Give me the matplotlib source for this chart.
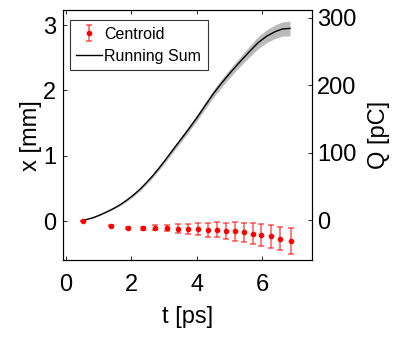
import matplotlib
matplotlib.use("Agg")
import matplotlib.pyplot as plt
import numpy as np

plt.rcParams["font.family"] = ["Liberation Sans", "DejaVu Sans"]

# running sum of charge (right axis, pC)
t_sum = [0.53, 0.83, 1.04, 1.24, 1.45, 1.65, 1.86, 2.06, 2.26, 2.46, 2.64, 2.82, 3.03, 3.23,
         3.48, 3.73, 4.0, 4.24, 4.48, 4.75, 5.01, 5.19, 5.36, 5.61, 5.87, 6.13, 6.38, 6.6, 6.84]
q_sum = [0, 4, 8, 12.5, 17.5, 23, 30, 37.5, 46, 56, 65.5, 76, 89, 102,
         118, 134, 152, 169, 186, 203, 218, 228, 237, 250, 263, 272.5, 279, 283, 284]
q_err = [0, 0.5, 0.8, 1, 1.2, 1.4, 1.7, 2, 2.3, 2.6, 2.8, 3, 3.3, 3.6,
         4, 4.3, 4.7, 5, 5.5, 6, 6.3, 6.6, 7, 8, 9, 9.5, 10, 10.5, 11]

# centroid position (left axis, mm)
t_cen = [0.53, 1.36, 1.90, 2.36, 2.72, 3.09, 3.43, 3.74, 4.04, 4.33, 4.60, 4.88, 5.15, 5.43, 5.70, 5.97, 6.25, 6.53, 6.87]
x_cen = [0.0, -0.07, -0.105, -0.11, -0.10, -0.105, -0.117, -0.12, -0.12, -0.13, -0.135, -0.153, -0.158, -0.173, -0.193, -0.209, -0.234, -0.27, -0.306]
x_err = [0.005, 0.01, 0.015, 0.02, 0.04, 0.05, 0.066, 0.08, 0.097, 0.107, 0.115, 0.128, 0.14, 0.15, 0.163, 0.17, 0.176, 0.18, 0.2]

fig = plt.figure(figsize=(4.01, 3.38), dpi=100)
ax = fig.add_axes([0.158, 0.23, 0.619, 0.74])
ax2 = ax.twinx()

ax2.fill_between(t_sum, np.array(q_sum) - np.array(q_err), np.array(q_sum) + np.array(q_err),
                 color="#bababa", lw=0)
l2, = ax2.plot(t_sum, q_sum, color="black", lw=1.0, label="Running Sum")

eb = ax.errorbar(t_cen, x_cen, yerr=x_err, fmt="o", color="red", ms=3,
                 ecolor=(1, 0, 0, 0.6), elinewidth=1.2, capsize=2.5, capthick=1.2,
                 label="Centroid")
ax.set_zorder(ax2.get_zorder() + 1)
ax.patch.set_visible(False)

ax.set_xlim(-0.08, 7.5)
ax.set_ylim(-0.6, 3.23)
ax2.set_ylim(-59, 311)
ax.set_xticks([0, 2, 4, 6])
ax.set_yticks([0, 1, 2, 3])
ax2.set_yticks([0, 100, 200, 300])

for a in (ax, ax2):
    a.tick_params(direction="in", length=3, width=0.6, labelsize=17)
    for s in a.spines.values():
        s.set_linewidth(0.8)
ax.tick_params(top=True)
ax.tick_params(axis="x", pad=10)
ax.tick_params(axis="y", pad=5)
ax2.tick_params(axis="y", pad=4)

ax.set_xlabel("t [ps]", fontsize=17, labelpad=7)
ax.set_ylabel("x [mm]", fontsize=17, labelpad=1)
ax2.set_ylabel("Q [pC]", fontsize=17, labelpad=8)

leg = ax.legend([eb, l2], ["Centroid", "Running Sum"], loc="upper left",
                bbox_to_anchor=(0.027, 0.96), borderaxespad=0, fontsize=11.5,
                frameon=True, fancybox=False, edgecolor="#333333", framealpha=1,
                handlelength=1.6, handletextpad=0.15, borderpad=0.4, labelspacing=0.45)
leg.get_frame().set_linewidth(0.8)

fig.savefig("out.png", dpi=100)
